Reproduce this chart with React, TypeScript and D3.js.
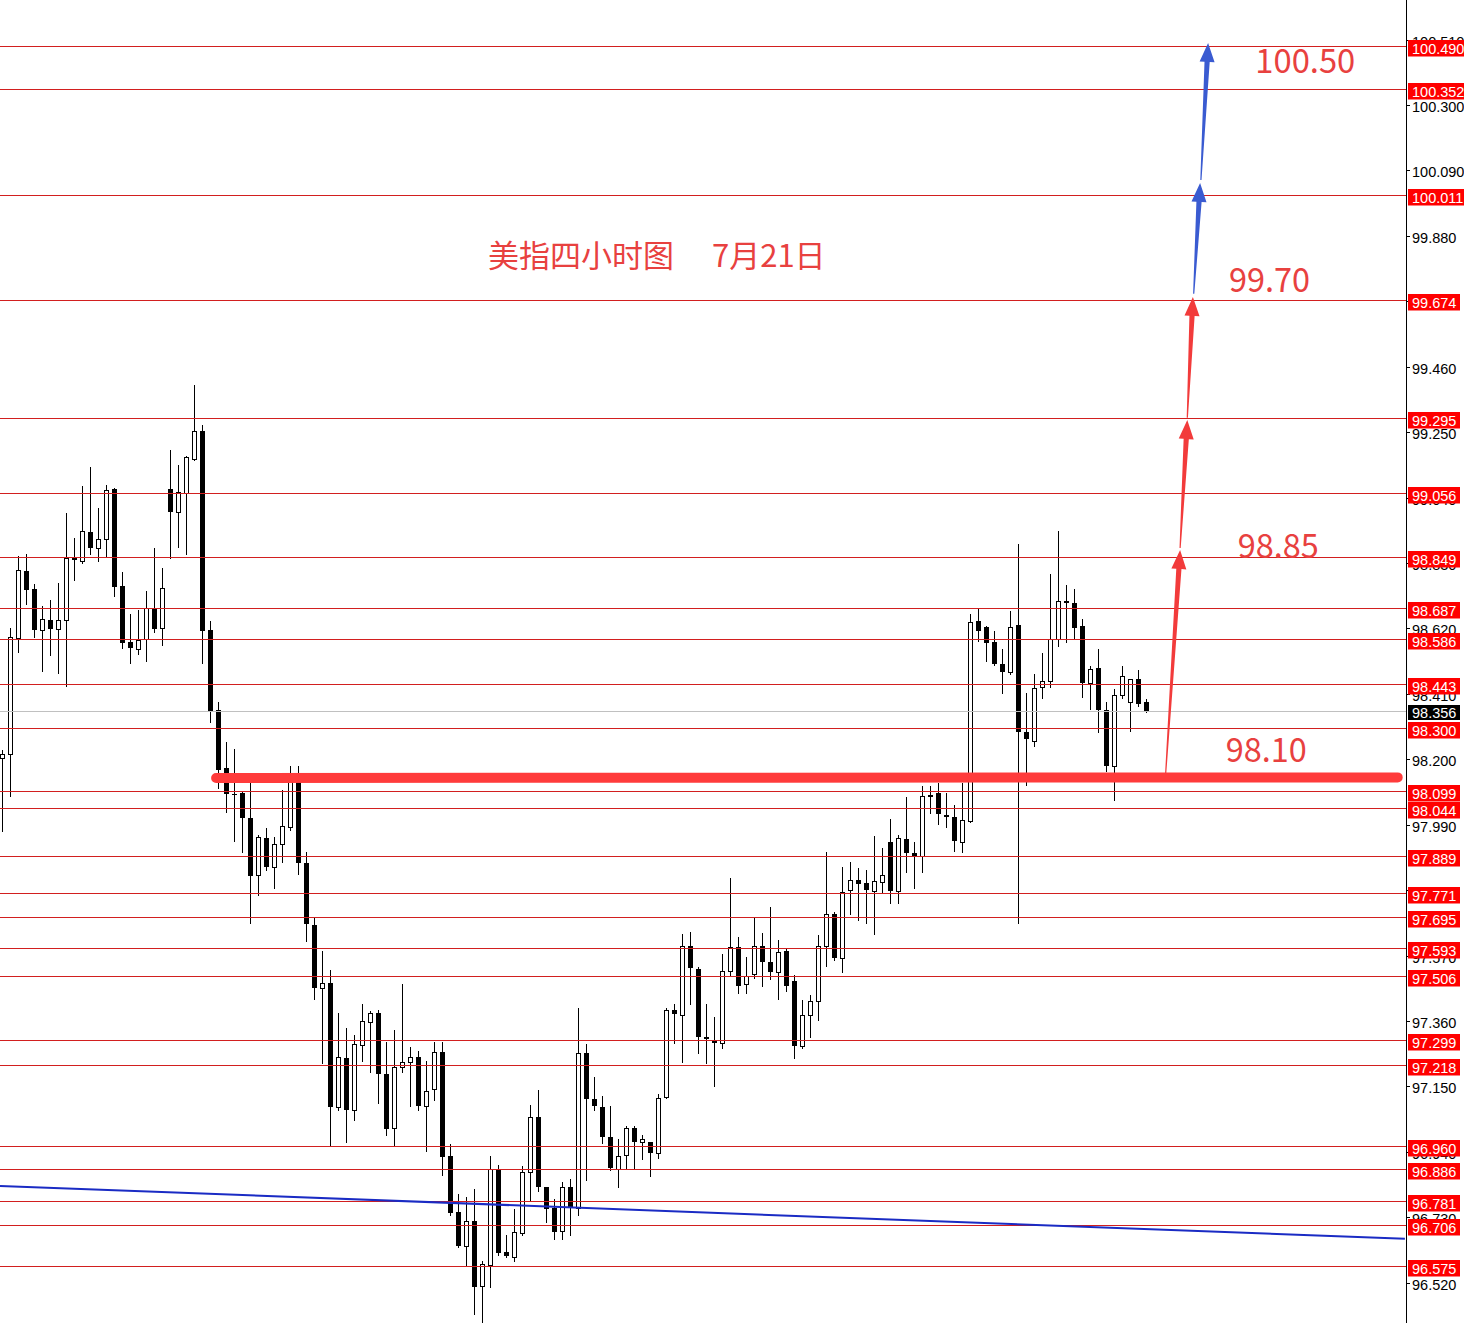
import React from 'react';
import * as d3 from 'd3';

const W = 1464;
const H = 1323;

const opens = [
  98.203, 98.216, 98.588, 98.805, 98.747, 98.616, 98.647, 98.619, 98.646, 98.845,
  98.838, 98.930, 98.878, 98.906, 99.068, 98.757, 98.578, 98.555, 98.586, 98.687,
  98.620, 99.068, 98.995, 99.054, 99.165, 99.254, 98.615, 98.359, 98.171, 98.090,
  98.092, 98.013, 97.829, 97.948, 97.854, 97.928, 97.984, 98.137, 97.867, 97.668,
  97.465, 97.481, 97.084, 97.241, 97.075, 97.283, 97.357, 97.385, 97.190, 97.016,
  97.213, 97.230, 97.244, 97.086, 97.141, 97.260, 96.928, 96.747, 96.639, 96.719,
  96.511, 96.578, 96.886, 96.618, 96.604, 96.681, 96.874, 97.052, 96.829, 96.760,
  96.686, 96.829, 96.760, 97.257, 97.111, 97.084, 96.987, 96.886, 96.930, 97.016,
  96.973, 96.971, 96.936, 97.115, 97.395, 97.380, 97.602, 97.527, 97.308, 97.296,
  97.289, 97.521, 97.597, 97.478, 97.510, 97.602, 97.549, 97.516, 97.585, 97.489,
  97.281, 97.380, 97.423, 97.602, 97.703, 97.562, 97.781, 97.812, 97.802, 97.779,
  97.806, 97.936, 97.776, 97.944, 97.899, 97.891, 98.086, 98.091, 98.022, 98.016,
  97.936, 98.003, 98.644, 98.624, 98.576, 98.506, 98.481, 98.630, 98.289, 98.260,
  98.432, 98.450, 98.585, 98.708, 98.701, 98.628, 98.444, 98.492, 98.359, 98.180,
  98.407, 98.385, 98.457, 98.383,
];

const highs = [
  98.230, 98.620, 98.851, 98.859, 98.762, 98.692, 98.712, 98.765, 98.989, 98.909,
  99.077, 99.137, 99.007, 99.080, 99.072, 98.800, 98.666, 98.680, 98.741, 98.877,
  98.813, 99.193, 99.145, 99.175, 99.402, 99.273, 98.644, 98.383, 98.255, 98.232,
  98.096, 98.129, 97.958, 97.979, 97.950, 98.100, 98.179, 98.179, 97.902, 97.693,
  97.585, 97.524, 97.385, 97.337, 97.316, 97.415, 97.393, 97.396, 97.292, 97.332,
  97.478, 97.276, 97.265, 97.232, 97.294, 97.294, 96.966, 96.804, 96.795, 96.821,
  96.590, 96.928, 96.899, 96.674, 96.756, 96.895, 97.091, 97.139, 96.829, 96.788,
  96.843, 96.853, 97.401, 97.286, 97.180, 97.118, 97.086, 96.981, 97.024, 97.024,
  96.995, 96.973, 97.125, 97.403, 97.415, 97.639, 97.645, 97.532, 97.415, 97.372,
  97.575, 97.819, 97.629, 97.567, 97.693, 97.642, 97.725, 97.621, 97.594, 97.508,
  97.428, 97.444, 97.636, 97.902, 97.709, 97.854, 97.872, 97.851, 97.845, 97.954,
  97.915, 98.009, 97.958, 98.080, 97.936, 98.113, 98.116, 98.123, 98.091, 98.054,
  98.123, 98.667, 98.682, 98.628, 98.612, 98.553, 98.676, 98.890, 98.414, 98.473,
  98.541, 98.794, 98.933, 98.760, 98.747, 98.650, 98.500, 98.554, 98.385, 98.425,
  98.498, 98.457, 98.487, 98.394,
];

const lows = [
  97.969, 98.081, 98.546, 98.698, 98.594, 98.482, 98.535, 98.476, 98.434, 98.776,
  98.831, 98.860, 98.835, 98.849, 98.725, 98.556, 98.510, 98.538, 98.517, 98.610,
  98.567, 98.847, 98.883, 98.858, 99.161, 98.510, 98.321, 98.109, 98.032, 97.939,
  97.904, 97.674, 97.763, 97.845, 97.788, 97.872, 97.974, 97.831, 97.618, 97.430,
  97.227, 96.963, 97.073, 96.973, 97.041, 97.233, 97.198, 97.096, 96.995, 96.963,
  97.198, 97.088, 97.073, 96.944, 97.107, 96.866, 96.738, 96.636, 96.575, 96.419,
  96.392, 96.508, 96.610, 96.602, 96.591, 96.672, 96.781, 96.815, 96.716, 96.662,
  96.662, 96.672, 96.738, 96.850, 97.073, 96.970, 96.883, 96.826, 96.885, 96.890,
  96.918, 96.864, 96.920, 97.112, 97.289, 97.230, 97.414, 97.259, 97.225, 97.150,
  97.273, 97.508, 97.449, 97.449, 97.498, 97.471, 97.494, 97.430, 97.455, 97.243,
  97.273, 97.310, 97.364, 97.537, 97.556, 97.516, 97.704, 97.685, 97.674, 97.640,
  97.770, 97.738, 97.738, 97.837, 97.788, 97.840, 98.029, 97.993, 97.982, 97.907,
  97.904, 98.000, 98.580, 98.517, 98.503, 98.412, 98.474, 97.676, 98.118, 98.244,
  98.396, 98.432, 98.564, 98.575, 98.589, 98.401, 98.361, 98.287, 98.164, 98.068,
  98.396, 98.292, 98.372, 98.353,
];

const closes = [
  98.216, 98.592, 98.807, 98.745, 98.616, 98.651, 98.619, 98.647, 98.845, 98.841,
  98.932, 98.879, 98.906, 99.064, 98.754, 98.574, 98.558, 98.582, 98.687, 98.619,
  98.749, 98.995, 99.057, 99.170, 99.254, 98.613, 98.353, 98.166, 98.090, 98.087,
  98.013, 97.824, 97.951, 97.853, 97.928, 97.985, 98.137, 97.866, 97.670, 97.465,
  97.481, 97.084, 97.244, 97.075, 97.286, 97.360, 97.385, 97.190, 97.013, 97.212,
  97.228, 97.244, 97.086, 97.137, 97.260, 96.925, 96.745, 96.639, 96.719, 96.508,
  96.580, 96.886, 96.615, 96.607, 96.683, 96.875, 97.052, 96.829, 96.756, 96.684,
  96.829, 96.760, 97.257, 97.111, 97.086, 96.989, 96.890, 96.928, 97.016, 96.973,
  96.981, 96.936, 97.112, 97.395, 97.382, 97.602, 97.530, 97.310, 97.302, 97.289,
  97.522, 97.597, 97.471, 97.506, 97.602, 97.548, 97.516, 97.581, 97.473, 97.281,
  97.380, 97.426, 97.602, 97.703, 97.564, 97.774, 97.813, 97.801, 97.781, 97.808,
  97.830, 97.776, 97.947, 97.899, 97.891, 98.083, 98.080, 98.024, 98.014, 97.939,
  98.006, 98.642, 98.612, 98.574, 98.505, 98.481, 98.626, 98.287, 98.265, 98.428,
  98.453, 98.586, 98.708, 98.701, 98.623, 98.444, 98.489, 98.359, 98.180, 98.407,
  98.468, 98.457, 98.378, 98.356,
];

const levels = [
  100.490, 100.352, 100.011, 99.674, 99.295, 99.056, 98.849, 98.687, 98.586, 98.443,
  98.300, 98.099, 98.044, 97.889, 97.771, 97.695, 97.593, 97.506, 97.299, 97.218,
  96.960, 96.886, 96.781, 96.706, 96.575,
];

const tickValues = [
  96.52, 96.73, 96.94, 97.15, 97.36, 97.57, 97.78, 97.99, 98.2, 98.41,
  98.62, 98.83, 99.04, 99.25, 99.46, 99.67, 99.88, 100.09, 100.3, 100.51,
];

const currentPrice = 98.356;

// blue trendline: [index, price]
const trendStart = [-0.31, 96.831];
const trendEnd = [175.3, 96.661];

// thick hand-drawn support line
const supportStart = [26.7, 98.14];
const supportEnd = [174.4, 98.142];

// projected arrows
const arrowFromIdx = [145.4, 147.2, 148.1, 148.9, 149.8];
const arrowFromPrice = [98.156, 98.878, 99.296, 99.694, 100.059];
const arrowToIdx = [147.2, 148.1, 148.8, 149.7, 150.7];
const arrowToPrice = [98.872, 99.289, 99.684, 100.05, 100.499];
const arrowColors = ['#f23b3b', '#f23b3b', '#f23b3b', '#3a5bd1', '#3a5bd1'];

// target annotations
const noteLabels = ['100.50', '99.70', '98.85', '98.10'];
const noteIdx = [156.6, 153.3, 154.4, 152.9];
const notePrice = [100.403, 99.7, 98.846, 98.191];

const titleMain = '美指四小时图';
const titleDate = '7月21日';

const AXIS_X = 1406;

export default function App() {
  const x = d3.scaleLinear().domain([0, 143]).range([2.5, 1146.5]);
  const y = d3.scaleLinear().domain([96.52, 100.3]).range([1282.8, 105]);

  const candles = opens.map((o, i) => {
    const h = highs[i];
    const l = lows[i];
    const c = closes[i];
    const cx = Math.floor(x(i));
    const bull = c >= o;
    const yt = Math.round(y(Math.max(o, c)));
    const yb = Math.round(y(Math.min(o, c)));
    const wick = (
      <line key={'w' + i} x1={cx + 0.5} x2={cx + 0.5} y1={Math.round(y(h))} y2={Math.round(y(l)) + 1} stroke="#000" strokeWidth={1} />
    );
    let body;
    if (!bull || yb - yt < 2) {
      body = <rect key={'b' + i} x={cx - 2} y={yt} width={5} height={Math.max(1, yb - yt + (bull ? 1 : 0))} fill="#000" />;
    } else {
      body = <rect key={'b' + i} x={cx - 1.5} y={yt + 0.5} width={4} height={yb - yt} fill="#fff" stroke="#000" strokeWidth={1} />;
    }
    return <g key={i}>{wick}{body}</g>;
  });

  const arrows = arrowFromIdx.map((fi, k) => {
    const tx = x(fi), ty = y(arrowFromPrice[k]);
    const px = x(arrowToIdx[k]), py = y(arrowToPrice[k]);
    const dx = px - tx, dy = py - ty;
    const len = Math.hypot(dx, dy);
    const ux = dx / len, uy = dy / len;
    const nx = -uy, ny = ux;
    const headLen = 19, headHalf = 7.5, tailHalf = 0.6, neckHalf = 2.6;
    const bx = px - ux * headLen, by = py - uy * headLen;
    const pts = [
      [tx + nx * tailHalf, ty + ny * tailHalf],
      [bx + nx * neckHalf, by + ny * neckHalf],
      [bx + nx * headHalf, by + ny * headHalf],
      [px, py],
      [bx - nx * headHalf, by - ny * headHalf],
      [bx - nx * neckHalf, by - ny * neckHalf],
      [tx - nx * tailHalf, ty - ny * tailHalf],
    ];
    return <polygon key={'a' + k} points={pts.map((p) => p.join(',')).join(' ')} fill={arrowColors[k]} />;
  });

  const yCurLine = Math.round(y(currentPrice));
  const labelFont = '"Liberation Sans", Arial, sans-serif';
  const labelSize = 14.5;

  return (
    <svg width={W} height={H} style={{ position: 'absolute', left: 0, top: 0, background: '#fff' }}>
      <rect x={0} y={0} width={W} height={H} fill="#fff" />
      {candles}
      <line x1={0} x2={AXIS_X} y1={yCurLine + 0.5} y2={yCurLine + 0.5} stroke="#c0c0c0" strokeWidth={1} />
      {levels.map((v, i) => {
        const ly = Math.round(y(v)) + 0.5;
        return <line key={'l' + i} x1={0} x2={AXIS_X} y1={ly} y2={ly} stroke="#d21f1f" strokeWidth={1} />;
      })}
      <line x1={x(trendStart[0])} y1={y(trendStart[1])} x2={x(trendEnd[0])} y2={y(trendEnd[1])} stroke="#1a2bc4" strokeWidth={2} />
      <line
        x1={x(supportStart[0])}
        y1={y(supportStart[1])}
        x2={x(supportEnd[0])}
        y2={y(supportEnd[1])}
        stroke="#ff3b3b"
        strokeWidth={10}
        strokeLinecap="round"
      />
      {arrows}
      <text x={488} y={267} fontFamily='"Noto Sans CJK SC", sans-serif' fontSize={31} fill="#e8413f">{titleMain}</text>
      <text x={712} y={267} fontFamily='"Noto Sans CJK SC", sans-serif' fontSize={31} fill="#e8413f">{titleDate}</text>
      {noteLabels.map((t, k) => (
        <text
          key={'n' + k}
          x={x(noteIdx[k])}
          y={y(notePrice[k])}
          fontFamily='"Noto Sans CJK SC", "Noto Sans", sans-serif'
          fontSize={34}
          fill="#e8413f"
          textLength={t.length === 6 ? 100 : 81}
          lengthAdjust="spacingAndGlyphs"
        >
          {t}
        </text>
      ))}
      <line x1={AXIS_X + 0.5} x2={AXIS_X + 0.5} y1={0} y2={H} stroke="#000" strokeWidth={1} />
      {tickValues.map((t, i) => {
        const ty = Math.round(y(t)) + 0.5;
        return (
          <g key={'t' + i}>
            <line x1={AXIS_X} x2={AXIS_X + 4} y1={ty} y2={ty} stroke="#000" strokeWidth={1} />
            <text x={1412} y={ty + 6} fontFamily={labelFont} fontSize={labelSize} fill="#000">{t.toFixed(3)}</text>
          </g>
        );
      })}
      {levels.map((v, i) => {
        const ly = Math.round(y(v));
        const s = v.toFixed(3);
        return (
          <g key={'lb' + i}>
            <rect x={1408} y={ly - 6} width={8 * s.length + 4} height={16.5} fill="#ff0000" />
            <text x={1412} y={ly + 7.5} fontFamily={labelFont} fontSize={labelSize} fill="#fff">{s}</text>
          </g>
        );
      })}
      <rect x={1408} y={yCurLine - 6} width={52} height={15} fill="#000" />
      <text x={1412} y={yCurLine + 6.5} fontFamily={labelFont} fontSize={labelSize} fill="#fff">{currentPrice.toFixed(3)}</text>
    </svg>
  );
}
